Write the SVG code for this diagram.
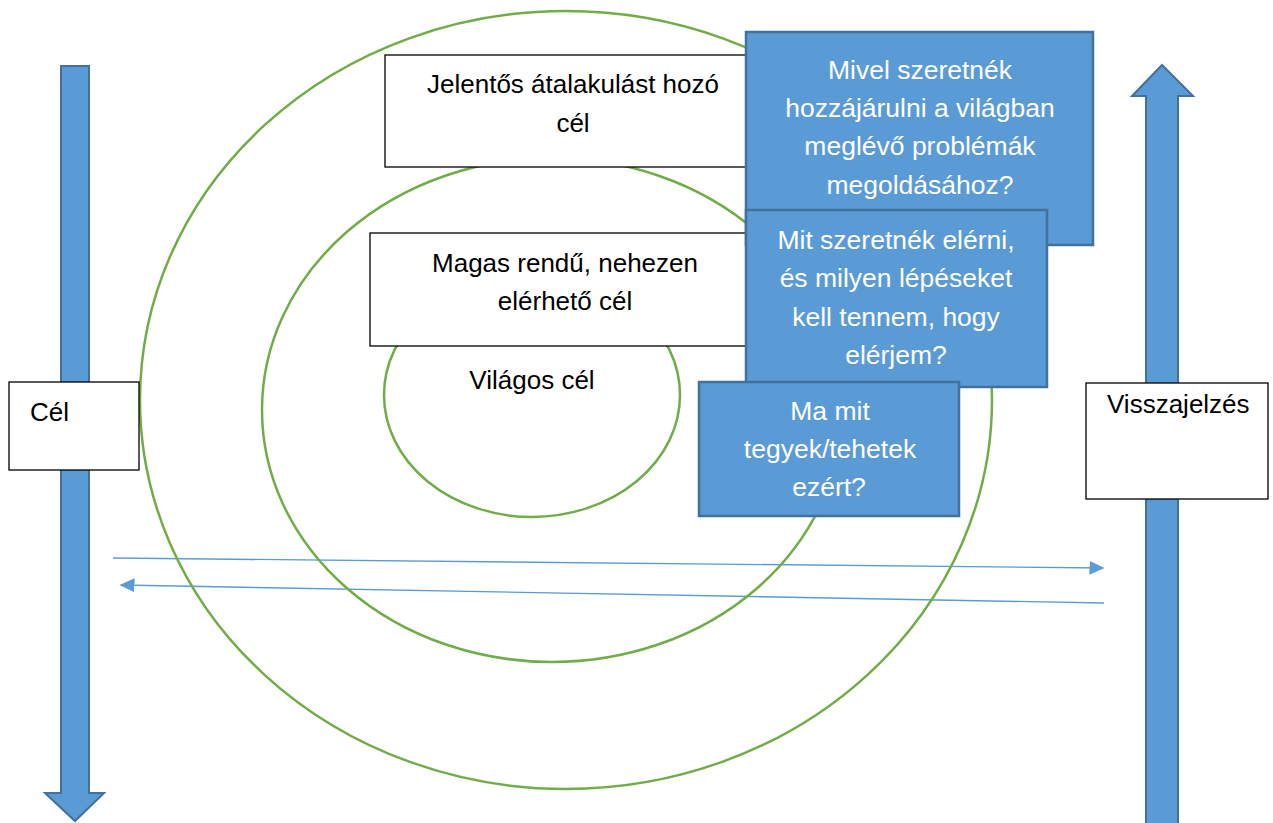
<svg xmlns="http://www.w3.org/2000/svg" width="1273" height="823" viewBox="0 0 1273 823">
  <style>
    .ring { fill: none; stroke: #70AD47; stroke-width: 2.5; }
    .card { fill: #FFFFFF; stroke: #000000; stroke-width: 1.3; }
    .note { fill: #5B9BD5; stroke: #41719C; stroke-width: 2.5; }
    .bigarrow { fill: #5B9BD5; stroke: #41719C; stroke-width: 2; }
    .flow { fill: none; stroke: #5B9BD5; stroke-width: 1.4; }
    .dark { font-family: "Liberation Sans", Arial, sans-serif; font-size: 26px; fill: #000000; }
    .light { font-family: "Liberation Sans", Arial, sans-serif; font-size: 26.5px; fill: #FFFFFF; }
    .mid { text-anchor: middle; }
  </style>
  <defs>
    <marker id="tip" viewBox="0 0 10 10" refX="9" refY="5" markerWidth="15" markerHeight="14" markerUnits="userSpaceOnUse" orient="auto" preserveAspectRatio="none">
      <path d="M0,0 L10,5 L0,10 Z" fill="#5B9BD5"/>
    </marker>
  </defs>

  <rect width="1273" height="823" fill="#FFFFFF"/>

  <!-- horizontal flow arrows -->
  <g id="connectors">
    <line class="flow" x1="113" y1="558" x2="1103" y2="568" marker-end="url(#tip)"/>
    <line class="flow" x1="1104" y1="603" x2="121" y2="585" marker-end="url(#tip)"/>
  </g>

  <!-- concentric goal rings -->
  <g id="rings">
    <ellipse class="ring" cx="566" cy="400" rx="426" ry="389"/>
    <ellipse class="ring" cx="552" cy="410" rx="290" ry="252"/>
    <ellipse class="ring" cx="532" cy="395" rx="148" ry="122"/>
  </g>

  <!-- vertical axis arrows -->
  <g id="goal-axis">
    <polygon class="bigarrow" points="61,66 89,66 89,793 104,793 75,821 45,793 61,793"/>
  </g>
  <g id="feedback-axis">
    <polygon class="bigarrow" points="1162,65 1193,96 1178,96 1178,830 1146,830 1146,96 1132,96"/>
  </g>

  <g id="goal-label">
    <rect class="card" x="9" y="382" width="130" height="88"/>
    <text class="dark" x="30" y="421" font-size="24">Cél</text>
  </g>

  <g id="feedback-label">
    <rect class="card" x="1086" y="383" width="182" height="116"/>
    <text class="dark" x="1107" y="413" font-size="25">Visszajelzés</text>
  </g>

  <g id="transformative-goal">
    <rect class="card" x="385" y="55" width="377" height="112"/>
    <text class="dark mid" x="573" y="93">Jelentős átalakulást hozó</text>
    <text class="dark mid" x="573" y="132">cél</text>
  </g>

  <g id="high-goal">
    <rect class="card" x="370" y="233" width="390" height="113"/>
    <text class="dark mid" x="565" y="272">Magas rendű, nehezen</text>
    <text class="dark mid" x="565" y="310">elérhető cél</text>
  </g>

  <g id="clear-goal">
    <text class="dark mid" x="532" y="389">Világos cél</text>
  </g>

  <g id="question-world">
    <rect class="note" x="746" y="32" width="347" height="213"/>
    <text class="light mid" x="920" y="79">Mivel szeretnék</text>
    <text class="light mid" x="920" y="117">hozzájárulni a világban</text>
    <text class="light mid" x="920" y="155">meglévő problémák</text>
    <text class="light mid" x="920" y="194">megoldásához?</text>
  </g>

  <g id="question-steps">
    <rect class="note" x="746" y="210" width="301" height="177"/>
    <text class="light mid" x="896" y="249">Mit szeretnék elérni,</text>
    <text class="light mid" x="896" y="287">és milyen lépéseket</text>
    <text class="light mid" x="896" y="326">kell tennem, hogy</text>
    <text class="light mid" x="896" y="364">elérjem?</text>
  </g>

  <g id="question-today">
    <rect class="note" x="699" y="382" width="260" height="134"/>
    <text class="light mid" x="830" y="420">Ma mit</text>
    <text class="light mid" x="830" y="458">tegyek/tehetek</text>
    <text class="light mid" x="829" y="496">ezért?</text>
  </g>
</svg>
